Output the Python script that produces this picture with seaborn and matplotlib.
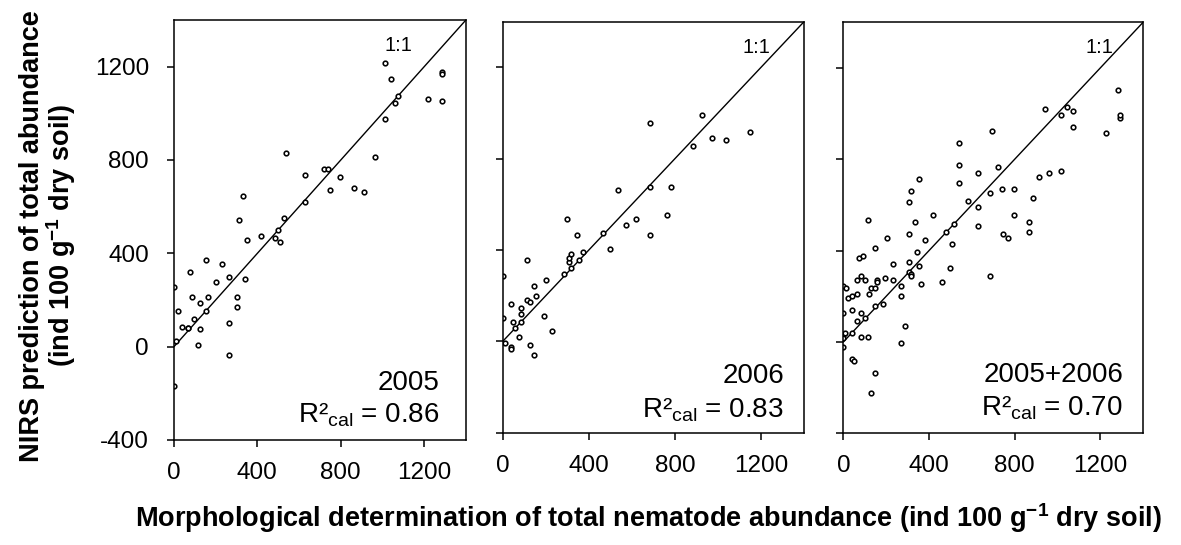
import matplotlib
matplotlib.use("Agg")
import matplotlib.pyplot as plt
import seaborn as sns
import pandas as pd

# --- Style ---
sns.set_style("ticks")
plt.rcParams["font.family"] = ["Liberation Sans", "DejaVu Sans"]
plt.rcParams["mathtext.fontset"] = "custom"
plt.rcParams["mathtext.rm"] = "Liberation Sans"
plt.rcParams["mathtext.bf"] = "Liberation Sans:bold"
plt.rcParams["axes.linewidth"] = 1.1
plt.rcParams["axes.unicode_minus"] = False
plt.rcParams["text.color"] = "black"
plt.rcParams["xtick.color"] = "black"
plt.rcParams["ytick.color"] = "black"

# --- Data ---
x_2005 = [0, 0, 10, 21, 40, 67, 67, 77, 87, 96, 116, 125, 125, 154, 154, 163, 200, 229, 266, 266,
          266, 304, 304, 312, 331, 341, 350, 416, 483, 501, 510, 530, 539, 626, 626, 718, 739, 749,
          795, 861, 909, 965, 1013, 1013, 1042, 1061, 1074, 1219, 1286, 1286, 1286]
y_2005 = [256, -170, 26, 153, 84, 78, 82, 321, 212, 118, 7, 186, 75, 373, 153, 212, 279, 356, 297, 102,
          -35, 212, 170, 543, 644, 288, 458, 474, 467, 500, 449, 552, 831, 737, 619, 763, 763, 670,
          729, 678, 661, 814, 1214, 975, 1145, 1043, 1073, 1060, 1178, 1170, 1051]

x_2006 = [0, 0, 9, 37, 37, 37, 46, 55, 74, 83, 83, 83, 111, 111, 128, 128, 146, 146, 156, 193,
          200, 228, 283, 300, 310, 310, 319, 319, 347, 356, 374, 465, 500, 537, 573, 619, 682, 682,
          682, 764, 782, 882, 927, 973, 1036, 1147]
y_2006 = [286, 104, -7, -25, -34, 164, 86, 60, 18, 146, 120, 86, 355, 182, 173, -18, 242, -60, 199, 113,
          268, 44, 294, 536, 346, 363, 381, 321, 466, 355, 390, 475, 406, 665, 510, 536, 958, 674,
          466, 552, 674, 856, 993, 889, 882, 916]

x_all = [0, 11, 0, 0, 0, 6, 0, 20, 39, 39, 39, 39, 48, 66, 66, 66, 75, 84, 84, 84,
         94, 103, 103, 113, 113, 122, 131, 131, 150, 150, 150, 150, 159, 159, 186, 195, 205, 233, 233, 269,
         269, 269, 288, 306, 306, 306, 306, 316, 316, 316, 334, 344, 353, 353, 363, 380, 417, 463, 481, 500,
         509, 519, 538, 538, 538, 583, 630, 630, 630, 684, 684, 694, 722, 739, 748, 767, 795, 795, 869, 869,
         888, 916, 944, 961, 1017, 1017, 1044, 1072, 1072, 1228, 1284, 1294, 1294]
y_all = [247, 238, 125, 29, 19, 37, -22, 194, 203, 141, 37, -75, -84, 212, 272, 90, 368, 290, 125, 21,
         377, 272, 107, 533, 21, 212, 238, -222, 412, 238, 159, -135, 272, 263, 168, 281, 455, 341, 272, 246,
         203, -6, 72, 611, 471, 350, 308, 662, 299, 290, 524, 394, 714, 334, 255, 446, 558, 263, 480, 325,
         428, 515, 871, 776, 696, 618, 740, 593, 506, 654, 290, 923, 767, 671, 471, 455, 671, 558, 524, 480,
         629, 723, 1019, 740, 992, 749, 1027, 1010, 941, 914, 1105, 983, 992]

labels = ["2005", "2006", "2005+2006"]
r2_cal = ["0.86", "0.83", "0.70"]
x_ticks = [0, 400, 800, 1200]
y_ticks = [-400, 0, 400, 800, 1200]

panels = [(x_2005, y_2005), (x_2006, y_2006), (x_all, y_all)]

# --- Layout (axes rectangles in figure fraction) ---
rects = [[0.1473, 0.1927, 0.2472, 0.7706],
         [0.4257, 0.2061, 0.2551, 0.7541],
         [0.7141, 0.2050, 0.2538, 0.7541]]
text_x = [0.908, 0.934, 0.933]
text_y1 = [0.119, 0.121, 0.125]
text_y2 = [0.043, 0.038, 0.045]
onetoone_x = [1141, 1242, 1260]

fig = plt.figure(figsize=(11.81, 5.45), dpi=100)

for i, (xs, ys) in enumerate(panels):
    ax = fig.add_axes(rects[i])
    df = pd.DataFrame({"x": xs, "y": ys})
    ax.plot([0, 1400], [0, 1400], color="black", linewidth=1.0, zorder=1)
    sns.scatterplot(data=df, x="x", y="y", ax=ax, marker="o", s=11,
                    facecolor="white", edgecolor="black", linewidth=1.15, zorder=2)
    ax.set_xlim(0, 1400)
    ax.set_ylim(-400, 1400)
    ax.set_xticks(x_ticks)
    ax.set_yticks(y_ticks)
    ax.set_xlabel("")
    ax.set_ylabel("")
    ax.tick_params(direction="out", length=5, width=1.1, labelsize=17.5, colors="black")
    ax.tick_params(axis="x", pad=11)
    ax.tick_params(axis="y", pad=13)
    if i > 0:
        ax.set_yticklabels([])
    for sp in ax.spines.values():
        sp.set_visible(True)
        sp.set_color("black")
    ax.text(onetoone_x[i], 1265, "1:1", ha="right", va="baseline", fontsize=14.5)
    ax.text(text_x[i], text_y1[i], labels[i], transform=ax.transAxes,
            ha="right", va="baseline", fontsize=20)
    ax.text(text_x[i], text_y2[i], "R²$_{\\mathrm{cal}}$ = " + r2_cal[i], transform=ax.transAxes,
            ha="right", va="baseline", fontsize=20)

# --- Axis titles ---
fig.text(0.041, 0.567, "NIRS prediction of total abundance\n(ind 100 g$^{\\mathbf{-1}}$ dry soil)",
         rotation=90, ha="center", va="center", multialignment="center",
         fontsize=19.5, fontweight="bold", linespacing=0.95)
fig.text(0.549, 0.0495,
         "Morphological determination of total nematode abundance (ind 100 g$^{\\mathbf{-1}}$ dry soil)",
         ha="center", va="center", fontsize=19.5, fontweight="bold")

fig.savefig("out.png", dpi=100)
